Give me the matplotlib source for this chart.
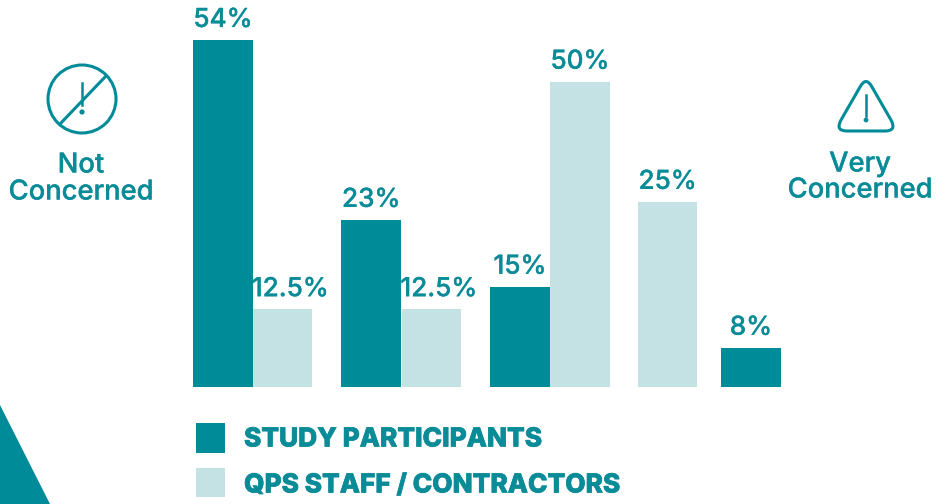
import matplotlib.pyplot as plt
import matplotlib.patheffects as pe
from matplotlib.patches import Circle, Polygon, PathPatch, Rectangle
from matplotlib.path import Path

teal = '#008b99'
light = '#c4e2e4'
text_teal = '#0a8c98'

# printed labels, and the bar heights as actually drawn (the source graphic is not to scale)
participant_labels = ['54%', '23%', '15%', '8%']
participant_heights = [54, 26, 15.6, 6.1]
staff_labels = ['12.5%', '12.5%', '50%', '25%']
staff_heights = [12.1, 12.1, 47.5, 28.8]
legend_labels = ['STUDY PARTICIPANTS', 'QPS STAFF / CONTRACTORS']

participant_x = [0.5, 2.97, 5.45, 9.3]
staff_x = [1.495, 3.97, 6.45, 7.91]

plt.rcParams['font.family'] = ['Inter', 'DejaVu Sans']

# the reference type is heavier than the installed weights, so thicken it a little
thick = [pe.withStroke(linewidth=0.2, foreground=text_teal)]
thicker = [pe.withStroke(linewidth=0.5, foreground=text_teal)]

fig = plt.figure(figsize=(9.49, 5.04), dpi=100)

# bars: axes spans x 193-781 px and y 40-387 px, 60 px = 1 x unit
ax = fig.add_axes([193 / 949, (504 - 387) / 504, 588 / 949, 347 / 504])
ax.set_xlim(0, 9.8)
ax.set_ylim(0, 54)
ax.axis('off')
ax.bar(participant_x, participant_heights, width=1.0, color=teal, linewidth=0)
ax.bar(staff_x, staff_heights, width=0.99, color=light, linewidth=0)


def bar_label(x, h, s, dx=0):
    ax.annotate(s, (x, h), xytext=(dx, 9.4), textcoords='offset points', ha='center', va='baseline',
                fontsize=18.8, fontweight='medium', color=text_teal, annotation_clip=False,
                path_effects=thick)


for x, h, s in zip(participant_x, participant_heights, participant_labels):
    bar_label(x, h, s)
for x, h, s in zip(staff_x, staff_heights, staff_labels):
    bar_label(x, h, s, dx=5.5 if s == '12.5%' else 0)

# everything else sits on a pixel overlay
ov = fig.add_axes([0, 0, 1, 1])
ov.set_xlim(0, 949)
ov.set_ylim(504, 0)
ov.axis('off')
ov.patch.set_alpha(0)

ov.add_patch(Polygon([(0, 405), (50, 504), (0, 504)], color=teal, linewidth=0))

# not concerned icon
ov.add_patch(Circle((82, 99), 34, fill=False, edgecolor=teal, linewidth=2.2))
ov.plot([60, 105], [124, 77], color=teal, linewidth=2.2)
ov.plot([82, 82], [83, 105], color=teal, linewidth=1.8)
ov.add_patch(Circle((82, 112), 2.6, color=teal, linewidth=0))

# very concerned icon, triangle with rounded corners
tri = Path([(860, 87), (866, 76), (872, 87), (891, 120), (897, 131), (885, 131),
            (847, 131), (835, 131), (841, 120), (860, 87)],
           [Path.MOVETO, Path.CURVE3, Path.CURVE3, Path.LINETO, Path.CURVE3, Path.CURVE3,
            Path.LINETO, Path.CURVE3, Path.CURVE3, Path.LINETO])
ov.add_patch(PathPatch(tri, fill=False, edgecolor=teal, linewidth=2.2, joinstyle='round'))
ov.plot([866, 866], [95, 116], color=teal, linewidth=1.8)
ov.add_patch(Circle((866, 120), 2.4, color=teal, linewidth=0))

for x, y, s in [(81, 172.5, 'Not'), (81, 199.5, 'Concerned'), (860, 171.5, 'Very'), (860, 197.5, 'Concerned')]:
    ov.text(x, y, s, ha='center', va='baseline', fontsize=19.7, fontweight='medium',
            color=text_teal, path_effects=thick)

# legend
ov.add_patch(Rectangle((196, 423), 29, 30, color=teal, linewidth=0))
ov.add_patch(Rectangle((196, 468), 29, 29, color=light, linewidth=0))
ov.text(244, 446.5, legend_labels[0], va='baseline', fontsize=18.9, fontweight='heavy',
        color=text_teal, path_effects=thicker)
ov.text(244, 492.5, legend_labels[1], va='baseline', fontsize=18.9, fontweight='heavy',
        color=text_teal, path_effects=thicker)

plt.savefig('out.png', dpi=100)
